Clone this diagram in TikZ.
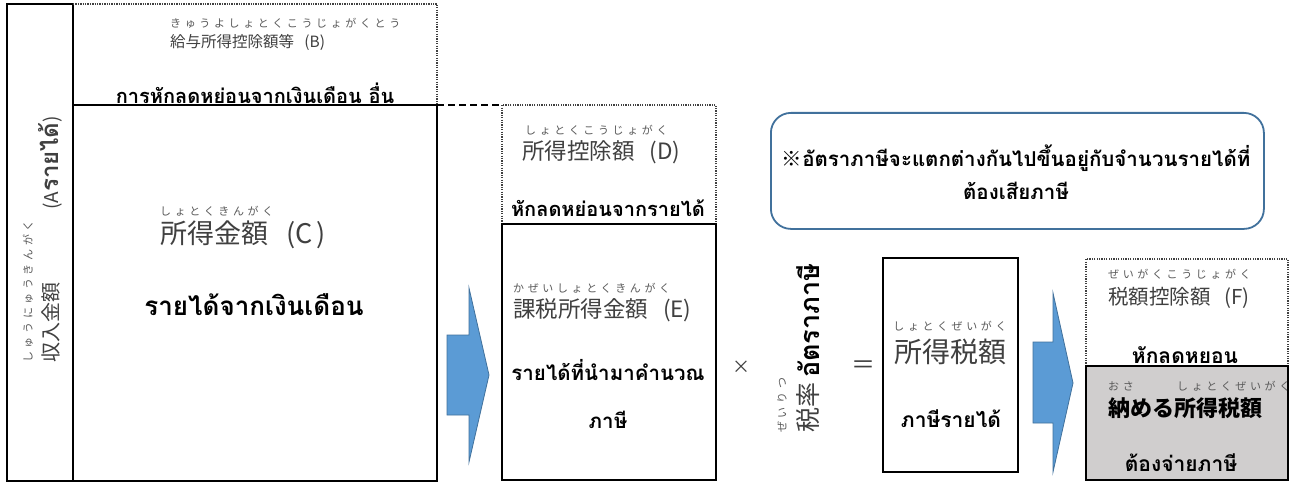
\documentclass[tikz,border=0pt]{standalone}
\usepackage{fontspec}
\newfontfamily\jp[Kerning=Off]{Noto Sans CJK JP}
\newfontfamily\jpfuri[LetterSpace=33]{Noto Sans CJK JP}
\newfontfamily\thai[Script=Thai]{Loma}
\newcommand{\fwp}[1]{\makebox[1em][r]{(}#1\makebox[1em][l]{)}}
\newcommand{\fwpc}[1]{\makebox[1em][r]{(}#1\makebox[0.5em][r]{)}}
\definecolor{arrowblue}{HTML}{5B9BD5}
\definecolor{arrowedge}{HTML}{41719C}
\definecolor{grayfill}{HTML}{D0CECE}
\definecolor{jpgray}{HTML}{404040}
\definecolor{furigray}{HTML}{595959}
\begin{document}
\begin{tikzpicture}[x=1pt,y=-1pt,
  solidbox/.style={draw=black,line width=2.2pt,anchor=north west,inner sep=0pt,outer sep=0pt},
  dotbox/.style={draw=black!75,line width=1.3pt,dash pattern=on 1.3pt off 1.1pt,anchor=north west,inner sep=0pt,outer sep=0pt},
  dotline/.style={draw=black!75,line width=1.3pt,dash pattern=on 1.3pt off 1.1pt},
  dashline/.style={draw=black,line width=1.6pt,dash pattern=on 7pt off 4pt},
  blockarrow/.style={fill=arrowblue,draw=arrowedge,line width=0.8pt,line join=miter},
  furi/.style={font=\jpfuri\fontsize{11}{13}\selectfont,text=furigray,inner sep=0pt},
  jpt/.style={font=\jp\fontsize{#1}{#1}\selectfont,text=jpgray,inner sep=0pt},
  jpb/.style={font=\jp\bfseries\fontsize{#1}{#1}\selectfont,text=black,inner sep=0pt},
  tht/.style={font=\thai\bfseries\fontsize{#1}{#1}\selectfont,text=black,inner sep=0pt}
]
\useasboundingbox[fill=white] (0,0) rectangle (1295,484);

% boxes
\node[solidbox,minimum width=66,minimum height=477] (L) at (7,4) {};
\node[anchor=north west,minimum width=364,minimum height=101,inner sep=0pt,outer sep=0pt] (B) at (73,4) {};
\node[solidbox,minimum width=364,minimum height=376] (C) at (73,105) {};
\draw[dotline] (B.north west) -- (B.north east) -- (B.south east);
\node[dotbox,minimum width=214,minimum height=119] (D) at (502,105) {};
\node[solidbox,minimum width=214,minimum height=256] (E) at (502,224) {};
\draw[dashline] (B.south east) -- (D.north west);
\node[solidbox,minimum width=135,minimum height=214] (T) at (883,258) {};
\node[dotbox,minimum width=202,minimum height=107] (F) at (1086,259) {};
\node[solidbox,fill=grayfill,minimum width=202,minimum height=114] (G) at (1086,366) {};
\node[draw=arrowedge,line width=1.8pt,rounded corners=20pt,anchor=north west,minimum width=493,minimum height=116,inner sep=0pt] (N) at (770,112) {};

% block arrows
\filldraw[blockarrow] (447,335) -- (469,335) -- (469,288) -- (489,375) -- (469,462) -- (469,415) -- (447,415) -- cycle;
\filldraw[blockarrow] (1033,342) -- (1053,342) -- (1053,293) -- (1073,383) -- (1053,472) -- (1053,423) -- (1033,423) -- cycle;

% left column
\node[furi,rotate=90,anchor=west] (lf) at (28,363) {しゅうにゅうきんがく};
\node[jpt=20,rotate=90,anchor=west] (lm) at (51,363) {収入金額};
\node[jpt=19,rotate=90,anchor=west] (la) at (50,210) {(A{\thai\bfseries\fontsize{24}{24}\selectfont รายได้})};

% B
\node[furi,anchor=west] (bf) at (170,23) {きゅうよしょとくこうじょがくとう};
\node[jpt=15.5,anchor=west] (bm) at (170,42) {給与所得控除額等\fwp{B}};
\node[tht=20] (bt) at (255,93) {การหักลดหย่อนจากเงินเดือน อื่น};

% C
\node[furi,anchor=west] (cf) at (160,211) {しょとくきんがく};
\node[jpt=27,anchor=west] (cm) at (160,235) {所得金額\fwpc{C}};
\node[tht=26] (ct) at (254,305) {รายได้จากเงินเดือน};

% D
\node[furi,anchor=west] (df) at (525,130) {しょとくこうじょがく};
\node[jpt=22.5,anchor=west] (dm) at (522,152) {所得控除額\fwp{D}};
\node[tht=20] (dt) at (608,208) {หักลดหย่อนจากรายได้};

% E
\node[furi,anchor=west] (ef) at (513,288) {かぜいしょとくきんがく};
\node[jpt=22.5,anchor=west] (em) at (513,310) {課税所得金額\fwp{E}};
\node[tht=20.5] (et1) at (608,370) {รายได้ที่นำมาคำนวณ};
\node[tht=20.5] (et2) at (608,420) {ภาษี};

% operators and rate
\node[jpt=18] (times) at (741,367) {×};
\node[furi,rotate=90,anchor=west] (rf) at (782,433) {ぜいりつ};
\node[jpt=25,rotate=90,anchor=west] (rm) at (808,433) {税率};
\node[tht=27,rotate=90,anchor=west] (rt) at (808,378) {อัตราภาษี};
\node[jpt=24] (eq) at (863,367) {＝};

% T
\node[furi] (tf) at (950,326) {しょとくぜいがく};
\node[jpt=28] (tm) at (950,352) {所得税額};
\node[tht=21] (tt) at (951,419) {ภาษีรายได้};

% F
\node[furi,anchor=west] (ff) at (1108,274) {ぜいがくこうじょがく};
\node[jpt=20.5,anchor=west] (fm) at (1108,298) {税額控除額\fwp{F}};
\node[tht=21] (ft) at (1185,355) {หักลดหยอน};

% G
\node[furi,anchor=west] (gf1) at (1108,386) {おさ};
\node[furi,anchor=west] (gf2) at (1177,386) {しょとくぜいがく};
\node[jpb=22,anchor=west] (gm) at (1108,408) {納める所得税額};
\node[tht=21] (gt) at (1181,463) {ต้องจ่ายภาษี};

% note
\node[tht=20.5] (n1) at (1016,158) {{\jp ※}อัตราภาษีจะแตกต่างกันไปขึ้นอยู่กับจำนวนรายได้ที่};
\node[tht=20.5] (n2) at (1016,191) {ต้องเสียภาษี};
\end{tikzpicture}
\end{document}
